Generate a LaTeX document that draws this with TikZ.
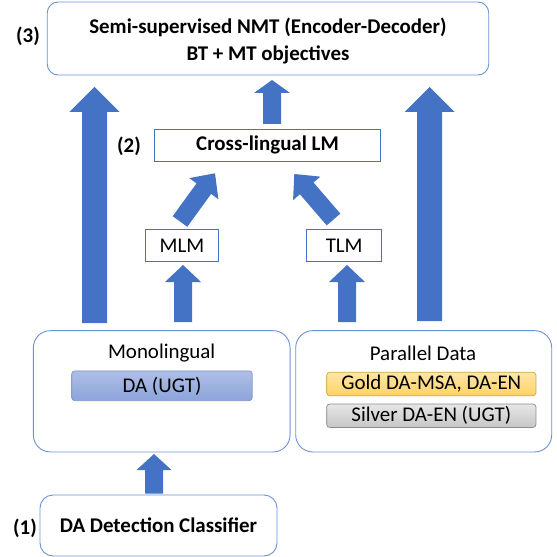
\documentclass[tikz,border=0pt]{standalone}
\usepackage{fontspec}
\setmainfont{Carlito}
\usetikzlibrary{calc}
\definecolor{arrowblue}{HTML}{4472C4}
\definecolor{boxline}{HTML}{6A93D6}
\definecolor{dafill1}{HTML}{AEBEE6}
\definecolor{dafill2}{HTML}{8DA4DA}
\definecolor{daline}{HTML}{7F94C8}
\definecolor{gold1}{HTML}{FFE6A6}
\definecolor{gold2}{HTML}{FFD265}
\definecolor{goldline}{HTML}{C9A548}
\definecolor{silver1}{HTML}{E6E6E6}
\definecolor{silver2}{HTML}{C6C6C6}
\definecolor{silverline}{HTML}{8C8C8C}
% #1 from, #2 to, #3 shaft half width, #4 head half width, #5 head length
\newcommand\blockarrow[5]{%
  \coordinate (ba-h) at ($(#2)!#5!(#1)$);
  \fill[arrowblue] ($(#1)!#3!90:(#2)$) -- ($(ba-h)!#3!90:(#2)$) -- ($(ba-h)!#4!90:(#2)$) -- (#2)
    -- ($(ba-h)!#4!-90:(#2)$) -- ($(ba-h)!#3!-90:(#2)$) -- ($(#1)!#3!-90:(#2)$) -- cycle;}
\begin{document}
\begin{tikzpicture}[x=1bp,y=-1bp,
  rbox/.style={draw=boxline, line width=0.9bp, fill=white, inner sep=0pt},
  sbox/.style={draw=arrowblue, line width=0.9bp, fill=white, inner sep=0pt},
  bar/.style={line width=0.7bp, rounded corners=3bp, inner sep=0pt},
  bfont/.style={font=\fontsize{21}{27}\selectfont\bfseries},
  nfont/.style={font=\fontsize{21}{24}\selectfont},
  lbl/.style={font=\fontsize{21}{24}\selectfont\bfseries, inner sep=0pt}]
\useasboundingbox (0,0) rectangle (557,557);

% boxes
\node[rbox, rounded corners=11bp, minimum width=441.5bp, minimum height=73bp] (nmt) at (268,38.5) {};
\node[bfont, align=center, inner sep=0pt] (nmtt) at (268,41) {Semi-supervised NMT (Encoder-Decoder)\\BT + MT objectives};
\node[sbox, minimum width=226.4bp, minimum height=32bp, bfont] (xlm) at (267.5,145) {Cross-lingual LM};
\node[sbox, minimum width=72.6bp, minimum height=32.7bp, nfont] (mlm) at (182,245.3) {MLM};
\node[sbox, minimum width=75bp, minimum height=32.7bp, nfont] (tlm) at (344.2,245.3) {TLM};
\node[rbox, rounded corners=17bp, minimum width=256.7bp, minimum height=121.3bp] (mono) at (161.7,391.3) {};
\node[rbox, rounded corners=17bp, minimum width=256bp, minimum height=121.3bp] (par) at (423.7,391.3) {};
\node[nfont, inner sep=0pt] (monot) at (161.7,353.3) {Monolingual};
\node[nfont, inner sep=0pt] (part) at (423,353.3) {Parallel Data};
\node[bar, draw=daline, top color=dafill1, bottom color=dafill2, minimum width=180.6bp, minimum height=29.7bp, nfont]
  (da) at (162,385.8) {DA (UGT)};
\node[bar, draw=goldline, top color=gold1, bottom color=gold2, minimum width=209.3bp, minimum height=23.4bp, nfont]
  (gold) at (431.3,384) {Gold DA-MSA, DA-EN};
\node[bar, draw=silverline, top color=silver1, bottom color=silver2, minimum width=209.3bp, minimum height=23.4bp, nfont]
  (silver) at (431.3,415.7) {Silver DA-EN (UGT)};
\node[rbox, rounded corners=13bp, minimum width=237bp, minimum height=61bp, bfont] (det) at (158.5,525.5) {DA Detection Classifier};

% step labels
\node[lbl] (l3) at (28,36) {(3)};
\node[lbl] (l2) at (129,146) {(2)};
\node[lbl] (l1) at (25,528) {(1)};

% arrow end points
\coordinate (la-s) at (94.5,323);  \coordinate (la-e) at (94.5,87);
\coordinate (ra-s) at (429.5,321); \coordinate (ra-e) at (429.5,87);
\coordinate (ca-s) at (272,124);   \coordinate (ca-e) at (272,80);
\coordinate (dl-s) at (180,221.5); \coordinate (dl-e) at (215,173.3);
\coordinate (dr-s) at (333.5,219.5); \coordinate (dr-e) at (294.3,174);
\coordinate (ma-s) at (183,322);   \coordinate (ma-e) at (183,265);
\coordinate (ta-s) at (347,322);   \coordinate (ta-e) at (347,265);
\coordinate (da-s) at (154,493.5); \coordinate (da-e) at (154,454);

\blockarrow{la-s}{la-e}{12.5bp}{25bp}{25bp}
\blockarrow{ra-s}{ra-e}{12.5bp}{25bp}{25bp}
\blockarrow{ca-s}{ca-e}{9bp}{18bp}{13bp}
\blockarrow{dl-s}{dl-e}{9bp}{18bp}{19bp}
\blockarrow{dr-s}{dr-e}{9bp}{18bp}{19bp}
\blockarrow{ma-s}{ma-e}{9bp}{18bp}{17bp}
\blockarrow{ta-s}{ta-e}{9bp}{18bp}{17bp}
\blockarrow{da-s}{da-e}{9bp}{17.5bp}{16bp}
\end{tikzpicture}
\end{document}
